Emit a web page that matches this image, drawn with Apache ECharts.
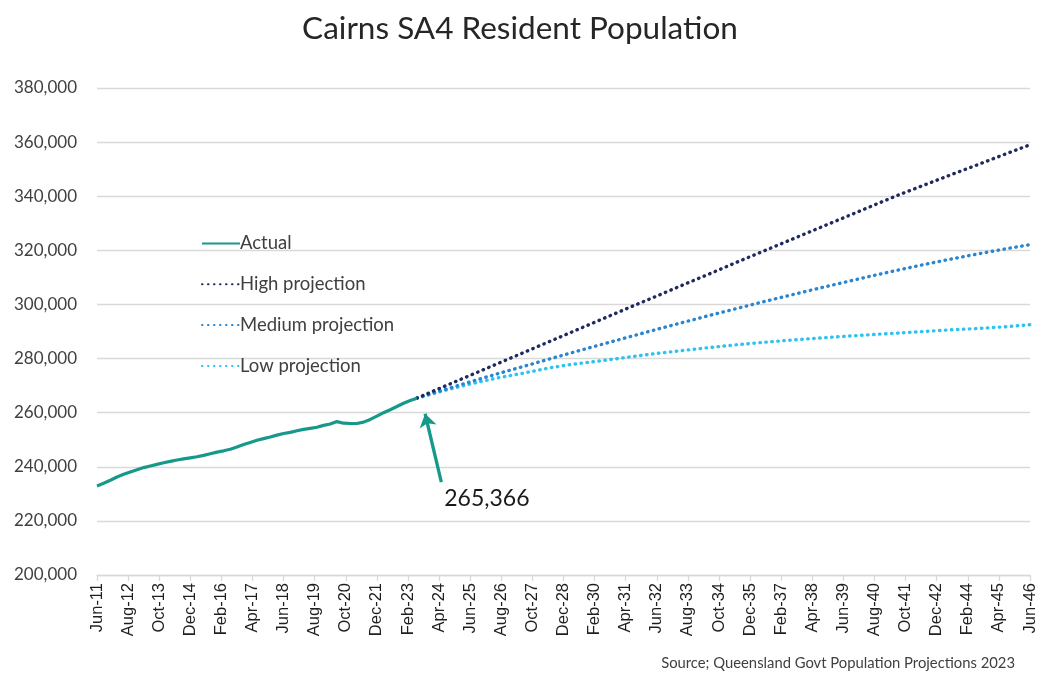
<!DOCTYPE html>
<html>
<head>
<meta charset="utf-8">
<script src="https://cdn.jsdelivr.net/npm/echarts@6/dist/echarts.min.js"></script>
<style>
  html, body { margin: 0; padding: 0; background: #fff; }
  #main { width: 1040px; height: 675px; }
</style>
</head>
<body>
<div id="main"></div>
<script>
// x axis tick labels (every 14 months from Jun-11)
var xTickLabels = ['Jun-11','Aug-12','Oct-13','Dec-14','Feb-16','Apr-17','Jun-18','Aug-19','Oct-20','Dec-21',
  'Feb-23','Apr-24','Jun-25','Aug-26','Oct-27','Dec-28','Feb-30','Apr-31','Jun-32','Aug-33','Oct-34',
  'Dec-35','Feb-37','Apr-38','Jun-39','Aug-40','Oct-41','Dec-42','Feb-44','Apr-45','Jun-46'];

// actual resident population, quarterly
var actualPeriods = ['Jun-11','Sep-11','Dec-11','Mar-12','Jun-12','Sep-12','Dec-12','Mar-13','Jun-13','Sep-13','Dec-13','Mar-14',
  'Jun-14','Sep-14','Dec-14','Mar-15','Jun-15','Sep-15','Dec-15','Mar-16','Jun-16','Sep-16','Dec-16','Mar-17',
  'Jun-17','Sep-17','Dec-17','Mar-18','Jun-18','Sep-18','Dec-18','Mar-19','Jun-19','Sep-19','Dec-19','Mar-20',
  'Jun-20','Sep-20','Dec-20','Mar-21','Jun-21','Sep-21','Dec-21','Mar-22','Jun-22','Sep-22','Dec-22','Mar-23','Jun-23'];
var actualValues = [232900,233900,235000,236200,237200,238100,238900,239700,240300,240900,241500,242000,
  242500,242900,243300,243700,244200,244800,245400,245900,246500,247300,248200,249000,
  249800,250400,251000,251700,252300,252700,253300,253800,254200,254600,255300,255800,
  256700,256100,256000,256000,256500,257500,258700,260000,261100,262300,263500,264500,265366];

// projections, annual (June)
var projPeriods = ['Jun-23','Jun-24','Jun-25','Jun-26','Jun-27','Jun-28','Jun-29','Jun-30','Jun-31','Jun-32','Jun-33','Jun-34',
  'Jun-35','Jun-36','Jun-37','Jun-38','Jun-39','Jun-40','Jun-41','Jun-42','Jun-43','Jun-44','Jun-45','Jun-46'];
var highValues = [265366,269600,273800,278000,282200,286400,290600,294800,299000,303100,307300,311400,
  315600,319700,323800,327900,332000,336100,340200,344000,347800,351500,355300,359000];
var mediumValues = [265366,268400,271400,274300,277100,279900,282700,285400,288100,290800,293400,296000,
  298500,301000,303400,305800,308100,310400,312600,314700,316700,318600,320400,322100];
var lowValues = [265366,268100,270600,272800,274600,276600,278100,279300,280600,281900,283000,284100,
  285100,286000,286800,287500,288200,288800,289400,290000,290600,291100,291700,292500];

var MONTHS = ['Jan','Feb','Mar','Apr','May','Jun','Jul','Aug','Sep','Oct','Nov','Dec'];
// months since Jun-11
function monthIndex(s){
  var p = s.split('-');
  return (parseInt(p[1],10) - 11) * 12 + (MONTHS.indexOf(p[0]) - 5);
}
function pairs(periods, values){
  var out = [];
  for (var i = 0; i < periods.length; i++) out.push([monthIndex(periods[i]), values[i]]);
  return out;
}

var calibri = 'Lato, "Open Sans", sans-serif';
var dotted = function(color){
  return { color: color, width: 3.4, type: [0.5, 5.5], cap: 'round' };
};

var chart = echarts.init(document.getElementById('main'));
var option = {
  animation: false,
  backgroundColor: '#ffffff',
  title: {
    text: 'Cairns SA4 Resident Population',
    left: 'center', top: 8,
    textStyle: { fontFamily: calibri, fontSize: 31.5, fontWeight: 'normal', color: '#262626' }
  },
  legend: {
    orient: 'vertical',
    left: 196, top: 229,
    itemWidth: 38, itemHeight: 14, itemGap: 21.8,
    itemStyle: { opacity: 0 },
    textStyle: { fontFamily: calibri, fontSize: 18.5, color: '#404040', padding: [0, 0, 0, -5] },
    data: ['Actual', 'High projection', 'Medium projection', 'Low projection']
  },
  graphic: [{
    type: 'text', right: 25, bottom: 4,
    style: { text: 'Source; Queensland Govt Population Projections 2023', font: '14.8px ' + calibri, fill: '#404040' }
  }],
  grid: { left: 97, right: 10, top: 88, bottom: 100 },
  xAxis: {
    type: 'value', min: 0, max: 420, interval: 14,
    axisLine: { show: true, lineStyle: { color: '#d9d9d9', width: 1.3 } },
    axisTick: { show: true, length: 6, lineStyle: { color: '#d9d9d9', width: 1.3 } },
    splitLine: { show: false },
    axisLabel: {
      rotate: 90, margin: 8,
      fontFamily: 'Liberation Sans, Arial, sans-serif', fontSize: 16.5, color: '#1f1f1f',
      formatter: function(v){ return xTickLabels[Math.round(v / 14)]; }
    }
  },
  yAxis: {
    type: 'value', min: 200000, max: 380000, interval: 20000,
    axisLine: { show: false }, axisTick: { show: false },
    splitLine: { lineStyle: { color: '#d9d9d9', width: 1.3 } },
    axisLabel: {
      margin: 20, fontFamily: calibri, fontSize: 17, color: '#404040',
      formatter: function(v){ return v.toLocaleString('en-US'); }
    }
  },
  series: [{
    name: 'Actual', type: 'line', symbol: 'none', z: 5,
    lineStyle: { color: '#16998a', width: 3.2 },
    itemStyle: { color: '#16998a' },
    data: pairs(actualPeriods, actualValues),
    markLine: {
      silent: true, symbol: ['none', 'arrow'], symbolSize: 13,
      lineStyle: { color: '#16998a', width: 3.3, type: 'solid' },
      label: { show: false },
      data: [[{ coord: [155, 234300] }, { coord: [147.7, 259600] }]]
    },
    markPoint: {
      symbol: 'rect', symbolSize: 0,
      label: {
        show: true, fontFamily: calibri, fontSize: 23, color: '#1a1a1a',
        formatter: function(){ return actualValues[actualValues.length - 1].toLocaleString('en-US'); }
      },
      data: [{ coord: [175.5, 228300] }]
    }
  }, {
    name: 'High projection', type: 'line', symbol: 'none', z: 4,
    lineStyle: dotted('#1f2a5e'), itemStyle: { color: '#1f2a5e' },
    data: pairs(projPeriods, highValues)
  }, {
    name: 'Medium projection', type: 'line', symbol: 'none', z: 3,
    lineStyle: dotted('#2a85d0'), itemStyle: { color: '#2a85d0' },
    data: pairs(projPeriods, mediumValues)
  }, {
    name: 'Low projection', type: 'line', symbol: 'none', z: 2,
    lineStyle: dotted('#2cc3f0'), itemStyle: { color: '#2cc3f0' },
    data: pairs(projPeriods, lowValues)
  }]
};
chart.setOption(option);
</script>
</body>
</html>
